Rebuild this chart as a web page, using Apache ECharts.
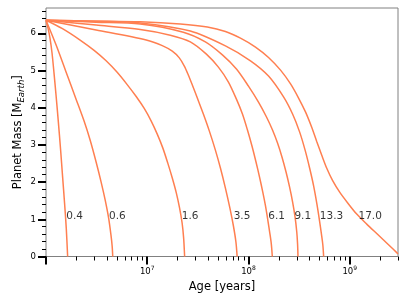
<!DOCTYPE html>
<html><head><meta charset="utf-8">
<script src="https://cdn.jsdelivr.net/npm/echarts@6/dist/echarts.min.js"></script>
<style>html,body{margin:0;padding:0;background:#fff}#c{width:407px;height:305px}</style>
</head><body><div id="c"></div>
<script>
const curveNames = ['0.4','0.6','1.6','3.5','6.1','9.1','13.3','17.0'];

const age_0_4  = [1.0e6, 1.047e6, 1.095e6, 1.147e6, 1.200e6, 1.256e6, 1.324e6, 1.392e6, 1.459e6, 1.525e6, 1.585e6, 1.636e6];
const mass_0_4 = [6.35, 6.14, 5.87, 5.47, 4.93, 4.34, 3.62, 2.89, 2.14, 1.44, 0.77, 0];

const age_0_6  = [1.0e6, 1.256e6, 1.578e6, 1.982e6, 2.378e6, 2.727e6, 3.126e6, 3.504e6, 3.840e6, 4.157e6, 4.381e6, 4.503e6, 4.564e6];
const mass_0_6 = [6.35, 5.69, 4.96, 4.23, 3.64, 3.13, 2.54, 2.00, 1.52, 1.03, 0.58, 0.28, 0];

const age_1_6  = [1.0e6, 1.440e6, 2.137e6, 2.987e6, 3.926e6, 5.047e6, 6.339e6, 7.780e6, 9.339e6, 1.095e7, 1.256e7, 1.424e7, 1.596e7, 1.768e7, 1.937e7, 2.088e7, 2.211e7, 2.288e7, 2.341e7];
const mass_1_6 = [6.35, 6.13, 5.83, 5.54, 5.26, 4.95, 4.62, 4.30, 3.98, 3.64, 3.29, 2.92, 2.51, 2.11, 1.71, 1.30, 0.90, 0.50, 0];

const age_3_5  = [1.0e6, 3.126e6, 9.772e6, 1.408e7, 1.768e7, 2.074e7, 2.325e7, 2.546e7, 2.789e7, 3.126e7, 3.585e7, 4.110e7, 4.713e7, 5.284e7, 5.920e7, 6.558e7, 7.103e7, 7.518e7, 7.728e7];
const mass_3_5 = [6.35, 6.09, 5.82, 5.67, 5.52, 5.34, 5.12, 4.88, 4.61, 4.26, 3.83, 3.37, 2.86, 2.38, 1.84, 1.30, 0.82, 0.39, 0];

const age_6_1  = [1.0e6, 3.126e6, 8.524e6, 1.689e7, 2.665e7, 3.840e7, 5.047e7, 6.339e7, 7.606e7, 8.721e7, 9.775e7, 1.083e8, 1.187e8, 1.285e8, 1.385e8, 1.473e8, 1.553e8, 1.625e8, 1.681e8, 1.720e8];
const mass_6_1 = [6.35, 6.22, 6.10, 5.95, 5.77, 5.44, 5.09, 4.69, 4.23, 3.83, 3.40, 2.97, 2.54, 2.14, 1.73, 1.36, 0.98, 0.63, 0.34, 0];

const age_9_1  = [1.0e6, 3.126e6, 8.524e6, 2.272e7, 3.752e7, 5.528e7, 7.606e7, 1.0e8, 1.256e8, 1.507e8, 1.728e8, 1.937e8, 2.146e8, 2.351e8, 2.546e8, 2.727e8, 2.887e8, 3.0e8, 3.055e8, 3.084e8];
const mass_9_1 = [6.35, 6.30, 6.25, 6.03, 5.77, 5.42, 5.04, 4.58, 4.15, 3.75, 3.40, 3.05, 2.67, 2.27, 1.87, 1.47, 1.06, 0.66, 0.34, 0];

const age_13_3  = [1.0e6, 3.126e6, 8.524e6, 2.665e7, 5.920e7, 1.047e8, 1.578e8, 2.221e8, 2.727e8, 3.199e8, 3.626e8, 4.018e8, 4.401e8, 4.745e8, 5.023e8, 5.258e8, 5.429e8, 5.528e8];
const mass_13_3 = [6.35, 6.32, 6.28, 6.06, 5.66, 5.26, 4.85, 4.29, 3.83, 3.35, 2.86, 2.38, 1.90, 1.41, 0.98, 0.60, 0.31, 0];

const age_17_0  = [1.0e6, 3.126e6, 8.524e6, 2.122e7, 3.926e7, 5.920e7, 8.337e7, 1.173e8, 1.578e8, 2.074e8, 2.605e8, 3.126e8, 3.667e8, 4.205e8, 4.713e8, 5.284e8, 5.920e8, 6.787e8, 7.962e8, 9.555e8, 1.173e9, 1.473e9, 1.894e9, 2.433e9, 3.0e9];
const mass_17_0 = [6.35, 6.33, 6.31, 6.25, 6.17, 6.05, 5.87, 5.63, 5.35, 5.01, 4.64, 4.26, 3.88, 3.48, 3.10, 2.73, 2.38, 2.04, 1.73, 1.44, 1.14, 0.87, 0.59, 0.31, 0.07];

const curveAges = [age_0_4, age_0_6, age_1_6, age_3_5, age_6_1, age_9_1, age_13_3, age_17_0];
const curveMasses = [mass_0_4, mass_0_6, mass_1_6, mass_3_5, mass_6_1, mass_9_1, mass_13_3, mass_17_0];

const labelAges = [1.567e6, 4.14e6, 2.17e7, 7.06e7, 1.552e8, 2.81e8, 5.01e8, 1.208e9];
const labelMasses = [1.09, 1.09, 1.09, 1.09, 1.09, 1.09, 1.09, 1.09];

const xMajorTicks = [1e6, 1e7, 1e8, 1e9];
const xLabelTicks = [1e7, 1e8, 1e9];
const xMinorTicks = [2e6,3e6,4e6,5e6,6e6,7e6,8e6,9e6, 2e7,3e7,4e7,5e7,6e7,7e7,8e7,9e7, 2e8,3e8,4e8,5e8,6e8,7e8,8e8,9e8, 2e9,3e9];
const yTicks = [0, 1, 2, 3, 4, 5, 6];

const FONT = 'DejaVu Sans';
const LINE_COLOR = '#FF7F50';

const chart = echarts.init(document.getElementById('c'), null, {renderer: 'canvas'});

const series = curveNames.map((name, i) => ({
  type: 'line',
  name: name,
  data: curveAges[i].map((a, j) => [a, curveMasses[i][j]]),
  showSymbol: false,
  smooth: 0.3,
  lineStyle: {color: LINE_COLOR, width: 1.5},
  itemStyle: {color: LINE_COLOR},
  z: 3
}));

series.push({
  type: 'scatter',
  data: labelAges.map((a, i) => [a, labelMasses[i], curveNames[i]]),
  symbolSize: 1,
  itemStyle: {color: 'rgba(0,0,0,0)'},
  label: {
    show: true,
    position: 'right',
    distance: 0,
    formatter: p => p.data[2],
    fontFamily: FONT,
    fontSize: 10.5,
    color: '#000'
  },
  z: 5
});

const logAxisBase = {
  type: 'log',
  logBase: 10,
  min: 1e6,
  max: 3e9,
  position: 'bottom',
  splitLine: {show: false},
  axisLine: {show: false}
};

chart.setOption({
  animation: false,
  backgroundColor: '#fff',
  grid: {
    left: 46, right: 9, top: 8, bottom: 48.5,
    show: true, borderColor: '#808080', borderWidth: 1,
    outerBoundsMode: 'none'
  },
  xAxis: [
    Object.assign({}, logAxisBase, {
      name: 'Age [years]',
      nameLocation: 'middle',
      nameGap: 25,
      nameMoveOverlap: false,
      nameTextStyle: {fontFamily: FONT, fontSize: 11.5, color: '#000'},
      axisTick: {show: true, customValues: xMajorTicks, length: 8, lineStyle: {color: '#000', width: 2}},
      axisLabel: {
        show: true,
        customValues: xLabelTicks,
        margin: 9,
        formatter: v => '{b|10}{s|' + Math.round(Math.log10(v)) + '}',
        rich: {
          b: {fontFamily: FONT, fontSize: 8.5, color: '#000', lineHeight: 12},
          s: {fontFamily: FONT, fontSize: 6, color: '#000', lineHeight: 8, verticalAlign: 'top'}
        }
      }
    }),
    Object.assign({}, logAxisBase, {
      axisTick: {show: true, customValues: xMinorTicks, length: 4, lineStyle: {color: '#000', width: 1}},
      axisLabel: {show: false}
    })
  ],
  yAxis: {
    type: 'value',
    min: 0,
    max: 6.68,
    interval: 1,
    name: '{a|Planet Mass [M}{b|Earth}{a|]}',
    nameLocation: 'middle',
    nameRotate: 90,
    nameGap: 20,
    nameMoveOverlap: false,
    nameTextStyle: {
      rich: {
        a: {fontFamily: FONT, fontSize: 11.5, color: '#000', lineHeight: 15},
        b: {fontFamily: FONT, fontSize: 8.5, fontStyle: 'italic', color: '#000', lineHeight: 10, verticalAlign: 'bottom'}
      }
    },
    axisLine: {show: false},
    splitLine: {show: false},
    axisTick: {show: true, customValues: yTicks, length: 8, lineStyle: {color: '#000', width: 2}},
    minorTick: {show: true, splitNumber: 5, length: 4, lineStyle: {color: '#000', width: 1}},
    minorSplitLine: {show: false},
    axisLabel: {customValues: yTicks, fontFamily: FONT, fontSize: 8.5, color: '#000', margin: 10}
  },
  series: series
});
</script>
</body></html>
